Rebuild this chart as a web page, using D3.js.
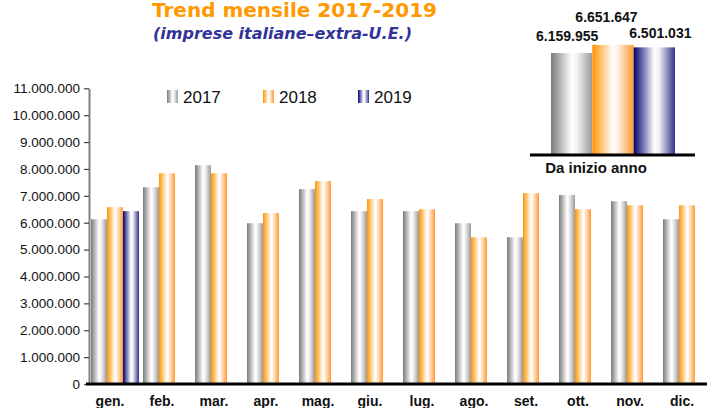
<!DOCTYPE html>
<html>
<head>
<meta charset="utf-8">
<script src="https://cdn.jsdelivr.net/npm/d3@7"></script>
<style>
  html, body { margin: 0; padding: 0; background: #fff; }
  svg { display: block; }
</style>
</head>
<body>
<svg id="chart" width="707" height="408"></svg>
<script>
// ---------------- DATA ----------------
const months = ["gen.", "feb.", "mar.", "apr.", "mag.", "giu.", "lug.", "ago.", "set.", "ott.", "nov.", "dic."];
const years = ["2017", "2018", "2019"];
const values2017 = [6130000, 7320000, 8140000, 5980000, 7250000, 6430000, 6430000, 5980000, 5460000, 7030000, 6800000, 6130000];
const values2018 = [6580000, 7840000, 7840000, 6360000, 7550000, 6880000, 6500000, 5460000, 7100000, 6500000, 6650000, 6650000];
const values2019 = [6430000, null, null, null, null, null, null, null, null, null, null, null];
const ytdValues = [6159955, 6651647, 6501031];
const yTicks = [0, 1000000, 2000000, 3000000, 4000000, 5000000, 6000000, 7000000, 8000000, 9000000, 10000000, 11000000];
const titleText = "Trend mensile 2017-2019";
const subtitleText = "(imprese italiane\u2013extra-U.E.)";
const ytdLabel = "Da inizio anno";

// ---------------- SETUP ----------------
const svg = d3.select("#chart");
const locale = d3.formatLocale({ decimal: ",", thousands: ".", grouping: [3], currency: ["", ""] });
const fmt = locale.format(",d");

const defs = svg.append("defs");
const grads = [
  { id: "g2017", stops: [[0, "#7a7a7a"], [0.5, "#ffffff"], [0.62, "#f4f4f4"], [1, "#9a9a9a"]] },
  { id: "g2018", stops: [[0, "#ff9400"], [0.5, "#ffffff"], [0.62, "#fff0e4"], [1, "#ff9a30"]] },
  { id: "g2019", stops: [[0, "#000070"], [0.5, "#ffffff"], [0.62, "#eeeef6"], [1, "#33338a"]] }
];
grads.forEach(g => {
  const lg = defs.append("linearGradient").attr("id", g.id)
    .attr("x1", "0").attr("x2", "1").attr("y1", "0").attr("y2", "0");
  g.stops.forEach(s => lg.append("stop").attr("offset", s[0]).attr("stop-color", s[1]));
});

const series = [values2017, values2018, values2019];

// ---------------- MAIN CHART ----------------
const x = d3.scaleBand().domain(months).range([89, 89 + 12 * 52]).paddingInner(0).paddingOuter(0);
const xs = d3.scaleBand().domain(years).range([2, 50]);
const y = d3.scaleLinear().domain([0, 11000000]).range([384, 88.3]);

// bars
const flat = [];
months.forEach((m, i) => {
  years.forEach((yr, j) => {
    const v = series[j][i];
    if (v != null) flat.push({ m, yr, v });
  });
});
svg.append("g").selectAll("rect").data(flat).join("rect")
  .attr("x", d => x(d.m) + xs(d.yr))
  .attr("y", d => y(d.v))
  .attr("width", xs.bandwidth())
  .attr("height", d => y(0) - y(d.v))
  .attr("fill", d => "url(#g" + d.yr + ")");

// y axis
const yAxis = svg.append("g").attr("transform", "translate(89,0)")
  .call(d3.axisLeft(y).tickValues(yTicks).tickFormat(fmt).tickSize(5).tickSizeOuter(0).tickPadding(4));
yAxis.select(".domain").attr("stroke", "#808080").attr("stroke-width", 2);
yAxis.selectAll(".tick line").attr("stroke", "#404040").attr("stroke-width", 1.2);
yAxis.selectAll(".tick text")
  .attr("font-family", "'Liberation Sans', Arial, sans-serif")
  .attr("font-size", "13.5px")
  .attr("fill", "#111");

// x baseline
svg.append("line").attr("x1", 86).attr("x2", 707).attr("y1", y(0)).attr("y2", y(0))
  .attr("stroke", "#000").attr("stroke-width", 3);

// month labels
svg.append("g").selectAll("text").data(months).join("text")
  .attr("x", d => x(d) + 21)
  .attr("y", 406)
  .attr("text-anchor", "middle")
  .attr("font-family", "'Liberation Sans', Arial, sans-serif")
  .attr("font-weight", "bold")
  .attr("font-size", "14px")
  .attr("fill", "#111")
  .text(d => d);

// legend
const legX = [167, 263, 358];
const leg = svg.append("g");
years.forEach((yr, j) => {
  leg.append("rect").attr("x", legX[j]).attr("y", 90).attr("width", 11).attr("height", 13)
    .attr("fill", "url(#g" + yr + ")");
  leg.append("text").attr("x", legX[j] + 16).attr("y", 103)
    .attr("font-family", "'Liberation Sans', Arial, sans-serif")
    .attr("font-size", "17px").attr("fill", "#111").text(yr);
});

// ---------------- TITLE ----------------
svg.append("text").attr("x", 152).attr("y", 16.5)
  .attr("font-family", "'DejaVu Sans', Verdana, sans-serif")
  .attr("font-weight", "bold").attr("font-size", "19px")
  .attr("fill", "#ff9900")
  .attr("textLength", 285).attr("lengthAdjust", "spacingAndGlyphs")
  .text(titleText);
svg.append("text").attr("x", 153).attr("y", 38.5)
  .attr("font-family", "'DejaVu Sans', Verdana, sans-serif")
  .attr("font-weight", "bold").attr("font-style", "italic").attr("font-size", "15px")
  .attr("fill", "#333399")
  .attr("textLength", 259).attr("lengthAdjust", "spacingAndGlyphs")
  .text(subtitleText);

// ---------------- INSET (YTD) ----------------
const xi = d3.scaleBand().domain(years).range([551, 675]).padding(0);
const yi = d3.scaleLinear().domain([0, 7000000]).range([155, 155 - 115.9]);
svg.append("g").selectAll("rect").data(years).join("rect")
  .attr("x", d => xi(d))
  .attr("y", (d, i) => yi(ytdValues[i]))
  .attr("width", xi.bandwidth())
  .attr("height", (d, i) => yi(0) - yi(ytdValues[i]))
  .attr("fill", d => "url(#g" + d + ")");
svg.append("line").attr("x1", 530).attr("x2", 695).attr("y1", 155).attr("y2", 155)
  .attr("stroke", "#000").attr("stroke-width", 3);
const labelDx = [-4.5, -6.5, 6];
const labelDy = [-12, -23, -9];
svg.append("g").selectAll("text").data(years).join("text")
  .attr("x", (d, i) => xi(d) + xi.bandwidth() / 2 + labelDx[i])
  .attr("y", (d, i) => yi(ytdValues[i]) + labelDy[i])
  .attr("text-anchor", "middle")
  .attr("font-family", "'Liberation Sans', Arial, sans-serif")
  .attr("font-weight", "bold").attr("font-size", "14px").attr("fill", "#111")
  .text((d, i) => fmt(ytdValues[i]));
svg.append("text").attr("x", 596).attr("y", 173)
  .attr("text-anchor", "middle")
  .attr("font-family", "'Liberation Sans', Arial, sans-serif")
  .attr("font-weight", "bold").attr("font-size", "15px").attr("fill", "#111")
  .text(ytdLabel);
</script>
</body>
</html>
